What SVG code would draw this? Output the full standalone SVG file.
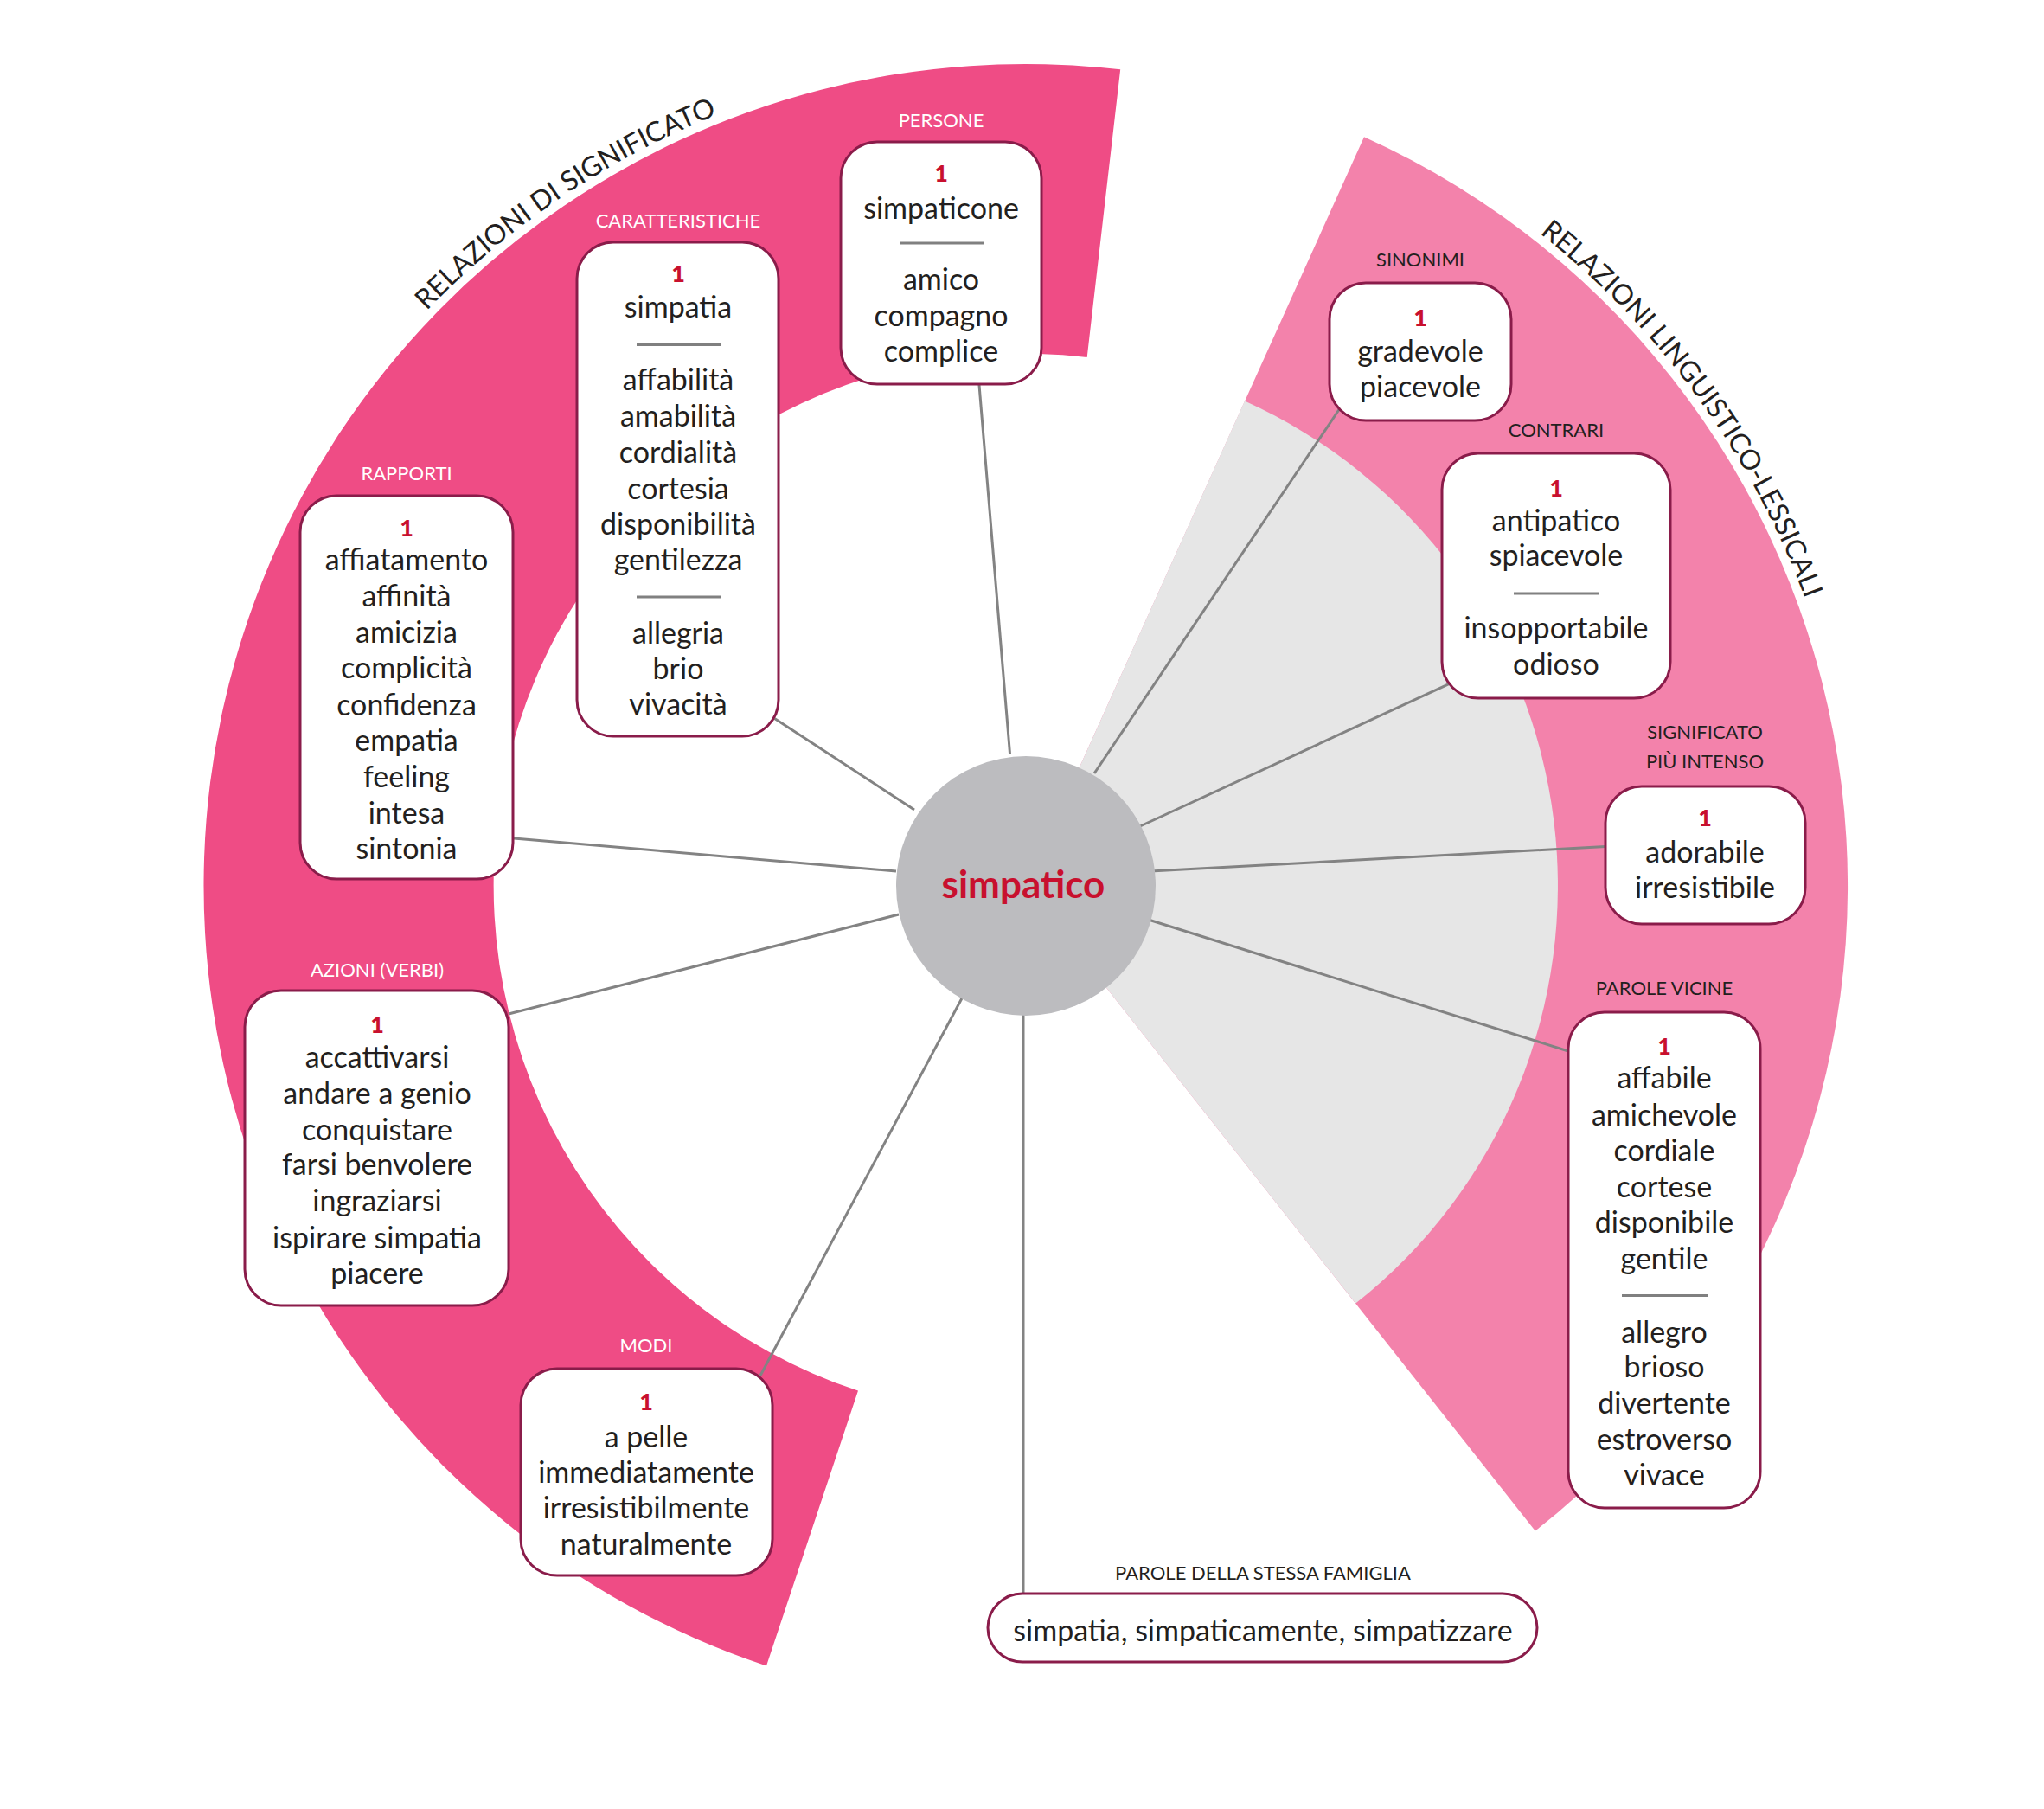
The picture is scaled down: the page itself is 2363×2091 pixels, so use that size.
<svg xmlns="http://www.w3.org/2000/svg" width="2363" height="2091" viewBox="0 0 2363 2091">
<style>
.box{fill:#fff;stroke:#8a1c4a;stroke-width:3}
.t{font-family:Lato,"Open Sans","DejaVu Sans",sans-serif;font-size:34px;fill:#231f20;text-anchor:middle}
.n{font-family:Lato,"Open Sans","DejaVu Sans",sans-serif;font-size:27px;font-weight:900;fill:#c8102e;text-anchor:middle}
.lw{font-family:Lato,"Open Sans","DejaVu Sans",sans-serif;font-size:22px;fill:#fff;text-anchor:middle}
.lb{font-family:Lato,"Open Sans","DejaVu Sans",sans-serif;font-size:22px;fill:#231f20;text-anchor:middle}
.div{stroke:#808080;stroke-width:3}
.con line{stroke:#838383;stroke-width:3}
.title{font-family:Lato,"Open Sans","DejaVu Sans",sans-serif;font-size:32px;fill:#231f20}
</style>
<defs>
<path id="arcL" d="M283.9 695.7 A960 960 0 0 1 1219.5 64.6"/>
<path id="arcR" d="M1482.7 111 A960 960 0 0 1 2146 1024"/>
</defs>
<rect width="2363" height="2091" fill="#fff"/>
<g id="sectors">
<path d="M886 1925.5 A950 950 0 0 1 1295.2 80.3 L1256.7 413 A615 615 0 0 0 992 1607.6 Z" fill="#ef4c85"/>
<path d="M1186 1024 L1577 158.2 A950 950 0 0 1 1774.8 1769.6 Z" fill="#f382ab"/>
<path d="M1186 1024 L1439 463.5 A615 615 0 0 1 1567.2 1506.6 Z" fill="#e6e6e6"/>
</g>
<g id="titles">
<text class="title"><textPath href="#arcL" startOffset="50%" text-anchor="middle">RELAZIONI DI SIGNIFICATO</textPath></text>
<text class="title"><textPath href="#arcR" startOffset="50%" text-anchor="middle">RELAZIONI LINGUISTICO-LESSICALI</textPath></text>
</g>
<g id="connectors" class="con">
<line x1="1167.5" y1="871" x2="1132" y2="445"/>
<line x1="1057" y1="936" x2="895.5" y2="830.5"/>
<line x1="1036" y1="1007" x2="594" y2="969"/>
<line x1="1039" y1="1057" x2="588" y2="1172"/>
<line x1="1113" y1="1152" x2="879" y2="1590"/>
<line x1="1265" y1="894" x2="1549" y2="472"/>
<line x1="1317" y1="955.5" x2="1675" y2="790.7"/>
<line x1="1330" y1="1007" x2="1856" y2="978.5"/>
<line x1="1324.5" y1="1062" x2="1813" y2="1215"/>
<line x1="1183" y1="1166" x2="1183" y2="1842"/>
</g>
<g id="center">
<circle cx="1186" cy="1024" r="150" fill="#bcbcbf"/>
<text x="1183" y="1038" font-family="Lato,'Open Sans',sans-serif" font-size="44" font-weight="bold" fill="#c8102e" text-anchor="middle">simpatico</text>
</g>
<g id="persone">
<text class="lw" x="1088" y="147">PERSONE</text>
<rect class="box" x="972" y="164" width="232" height="280" rx="42"/>
<text class="n" x="1088" y="210">1</text>
<text class="t" x="1088" y="253">simpaticone</text>
<line class="div" x1="1041" y1="281" x2="1138" y2="281"/>
<text class="t" x="1088" y="335">amico</text>
<text class="t" x="1088" y="377">compagno</text>
<text class="t" x="1088" y="418">complice</text>
</g>
<g id="caratteristiche">
<text class="lw" x="784" y="263">CARATTERISTICHE</text>
<rect class="box" x="667" y="280" width="233" height="571" rx="42"/>
<text class="n" x="784" y="326">1</text>
<text class="t" x="784" y="367">simpatia</text>
<line class="div" x1="736" y1="398.5" x2="833" y2="398.5"/>
<text class="t" x="784" y="451">affabilità</text>
<text class="t" x="784" y="493">amabilità</text>
<text class="t" x="784" y="535">cordialità</text>
<text class="t" x="784" y="577">cortesia</text>
<text class="t" x="784" y="618">disponibilità</text>
<text class="t" x="784" y="659">gentilezza</text>
<line class="div" x1="736" y1="690" x2="833" y2="690"/>
<text class="t" x="784" y="744">allegria</text>
<text class="t" x="784" y="785">brio</text>
<text class="t" x="784" y="826">vivacità</text>
</g>
<g id="rapporti">
<text class="lw" x="470" y="555">RAPPORTI</text>
<rect class="box" x="347" y="573" width="246" height="443" rx="42"/>
<text class="n" x="470" y="620">1</text>
<text class="t" x="470" y="659">affiatamento</text>
<text class="t" x="470" y="701">affinità</text>
<text class="t" x="470" y="743">amicizia</text>
<text class="t" x="470" y="784">complicità</text>
<text class="t" x="470" y="827">confidenza</text>
<text class="t" x="470" y="868">empatia</text>
<text class="t" x="470" y="910">feeling</text>
<text class="t" x="470" y="952">intesa</text>
<text class="t" x="470" y="993">sintonia</text>
</g>
<g id="azioni">
<text class="lw" x="436" y="1129">AZIONI (VERBI)</text>
<rect class="box" x="283" y="1145" width="305" height="364" rx="42"/>
<text class="n" x="436" y="1194">1</text>
<text class="t" x="436" y="1234">accattivarsi</text>
<text class="t" x="436" y="1276">andare a genio</text>
<text class="t" x="436" y="1318">conquistare</text>
<text class="t" x="436" y="1358">farsi benvolere</text>
<text class="t" x="436" y="1400">ingraziarsi</text>
<text class="t" x="436" y="1443">ispirare simpatia</text>
<text class="t" x="436" y="1484">piacere</text>
</g>
<g id="modi">
<text class="lw" x="747" y="1563">MODI</text>
<rect class="box" x="602" y="1582" width="291" height="239" rx="42"/>
<text class="n" x="747" y="1630">1</text>
<text class="t" x="747" y="1673">a pelle</text>
<text class="t" x="747" y="1714">immediatamente</text>
<text class="t" x="747" y="1755">irresistibilmente</text>
<text class="t" x="747" y="1797">naturalmente</text>
</g>
<g id="sinonimi">
<text class="lb" x="1642" y="308">SINONIMI</text>
<rect class="box" x="1537" y="327" width="210" height="159" rx="42"/>
<text class="n" x="1642" y="377">1</text>
<text class="t" x="1642" y="418">gradevole</text>
<text class="t" x="1642" y="459">piacevole</text>
</g>
<g id="contrari">
<text class="lb" x="1799" y="505">CONTRARI</text>
<rect class="box" x="1667" y="524" width="264" height="283" rx="42"/>
<text class="n" x="1799" y="574">1</text>
<text class="t" x="1799" y="614">antipatico</text>
<text class="t" x="1799" y="654">spiacevole</text>
<line class="div" x1="1750" y1="686" x2="1849" y2="686"/>
<text class="t" x="1799" y="738">insopportabile</text>
<text class="t" x="1799" y="780">odioso</text>
</g>
<g id="significato">
<text class="lb" x="1971" y="854">SIGNIFICATO</text>
<text class="lb" x="1971" y="888">PIÙ INTENSO</text>
<rect class="box" x="1856" y="909" width="231" height="159" rx="42"/>
<text class="n" x="1971" y="955">1</text>
<text class="t" x="1971" y="997">adorabile</text>
<text class="t" x="1971" y="1038">irresistibile</text>
</g>
<g id="parole-vicine">
<text class="lb" x="1924" y="1150">PAROLE VICINE</text>
<rect class="box" x="1813" y="1170" width="222" height="573" rx="42"/>
<text class="n" x="1924" y="1219">1</text>
<text class="t" x="1924" y="1258">affabile</text>
<text class="t" x="1924" y="1301">amichevole</text>
<text class="t" x="1924" y="1342">cordiale</text>
<text class="t" x="1924" y="1384">cortese</text>
<text class="t" x="1924" y="1425">disponibile</text>
<text class="t" x="1924" y="1467">gentile</text>
<line class="div" x1="1875" y1="1497.5" x2="1975" y2="1497.5"/>
<text class="t" x="1924" y="1552">allegro</text>
<text class="t" x="1924" y="1592">brioso</text>
<text class="t" x="1924" y="1634">divertente</text>
<text class="t" x="1924" y="1676">estroverso</text>
<text class="t" x="1924" y="1717">vivace</text>
</g>
<g id="famiglia">
<text class="lb" x="1460" y="1826">PAROLE DELLA STESSA FAMIGLIA</text>
<rect class="box" x="1142" y="1842" width="635" height="79" rx="40"/>
<text class="t" x="1460" y="1897">simpatia, simpaticamente, simpatizzare</text>
</g>
</svg>
